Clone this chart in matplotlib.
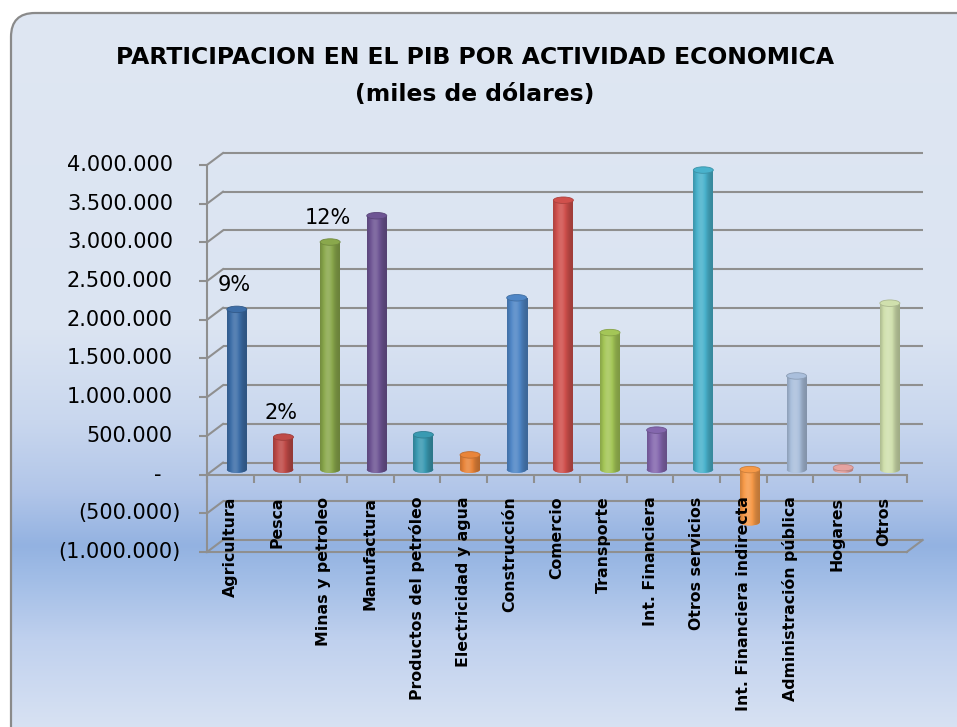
import numpy as np
import matplotlib
matplotlib.use('Agg')
import matplotlib.pyplot as plt
import matplotlib.colors as mcolors
import matplotlib.transforms as mtrans
from matplotlib.patches import FancyBboxPatch, Ellipse

# ---------------- data ----------------
categories = ["Agricultura", "Pesca", "Minas y petroleo", "Manufactura",
              "Productos del petróleo", "Electricidad y agua", "Construcción",
              "Comercio", "Transporte", "Int. Financiera", "Otros servicios",
              "Int. Financiera indirecta", "Administración pública", "Hogares", "Otros"]
values = [2070000, 420000, 2940000, 3280000, 450000, 190000, 2220000,
          3480000, 1770000, 510000, 3870000, -680000, 1210000, 25000, 2150000]
pct_labels = ["9%", "2%", "12%", "", "", "", "", "", "", "", "", "", "", "", ""]
bar_colors = ["#3d6ea8", "#bf4a47", "#8aa84c", "#6e5594", "#3a9ab2", "#e9853a",
              "#4f86c6", "#d0504c", "#a4c657", "#8467ae", "#49b2cc", "#f79a48",
              "#aabfdc", "#e6a3a0", "#d0e0ad"]
yticks = [-1000000, -500000, 0, 500000, 1000000, 1500000, 2000000,
          2500000, 3000000, 3500000, 4000000]
ytick_labels = ["(1.000.000)", "(500.000)", "-", "500.000", "1.000.000", "1.500.000",
                "2.000.000", "2.500.000", "3.000.000", "3.500.000", "4.000.000"]
title_line1 = "PARTICIPACION EN EL PIB POR ACTIVIDAD ECONOMICA"
title_line2 = "(miles de dólares)"

W, H = 957, 727
fig = plt.figure(figsize=(W / 100, H / 100), dpi=100)
fig.patch.set_facecolor("white")

# ---------------- background (rounded, gradient) ----------------
bg = fig.add_axes([0, 0, 1, 1], zorder=0)
bg.set_xlim(0, W)
bg.set_ylim(H, 0)
bg.axis("off")
stops_y = [0, 330, 420, 490, 545, 575, 640, 727]
stops_c = ["#dfe7f3", "#dbe4f2", "#c9d7ee", "#b2c6e9", "#93b2e1", "#a0bce6", "#c0d1ee", "#d8e2f3"]
ys = np.arange(H)
rgb = np.array([mcolors.to_rgb(c) for c in stops_c])
grad = np.stack([np.interp(ys, stops_y, rgb[:, k]) for k in range(3)], axis=1)
grad = grad[:, None, :]
frame = FancyBboxPatch((11, 13), W + 40, H + 40, boxstyle="round,pad=0,rounding_size=24",
                       facecolor="none", edgecolor="#8a8a8a", lw=1.6, zorder=2)
bg.add_patch(frame)
im = bg.imshow(grad, extent=[0, W, H, 0], aspect="auto", zorder=1, interpolation="bilinear")
im.set_clip_path(frame)
bg.set_xlim(0, W)
bg.set_ylim(H, 0)

# title
fig.text(475 / W, 1 - 57 / H, title_line1, ha="center", va="center",
         fontsize=16.9, fontweight="bold", family="DejaVu Sans")
fig.text(475 / W, 1 - 95 / H, title_line2, ha="center", va="center",
         fontsize=16.9, fontweight="bold", family="DejaVu Sans")

# ---------------- main axes ----------------
x_left, x_right = 207, 906.7
y_top, y_bot = 165, 552
ax = fig.add_axes([x_left / W, 1 - y_bot / H, (x_right - x_left) / W, (y_bot - y_top) / H], zorder=1)
ax.patch.set_visible(False)
n = len(categories)
ax.set_xlim(-0.5, n - 0.5)
ax.set_ylim(yticks[0], yticks[-1])

grid_c = "#8f8f8f"
px_x = (x_right - x_left) / n
px_y = (y_bot - y_top) / (yticks[-1] - yticks[0])
DX = 16 / px_x
DY = 12 / px_y
BX = 6.5 / px_x
BY = 5 / px_y

for s in ["top", "right"]:
    ax.spines[s].set_visible(False)
ax.spines["left"].set_color(grid_c)
ax.spines["left"].set_linewidth(1.5)
ax.spines["bottom"].set_position(("data", 0))
ax.spines["bottom"].set_color(grid_c)
ax.spines["bottom"].set_linewidth(1.5)
ax.set_yticks(yticks)
ax.set_yticklabels([])
ax.tick_params(axis="y", length=5.8, width=1.5, color=grid_c, direction="out")
ax.set_xticks(np.arange(-0.5, n, 1))
ax.set_xticklabels([])
ax.tick_params(axis="x", length=5.8, width=1.5, color=grid_c, direction="out")

# back wall gridlines + left diagonals
for v in yticks:
    ax.plot([-0.5 + DX, n - 0.5 + DX], [v + DY, v + DY], color=grid_c, lw=1.5,
            clip_on=False, zorder=1, solid_capstyle="butt")
    ax.plot([-0.5, -0.5 + DX], [v, v + DY], color=grid_c, lw=1.5, clip_on=False, zorder=1)
# floor at axis minimum
ax.plot([-0.5, n - 0.5], [yticks[0], yticks[0]], color=grid_c, lw=1.5, clip_on=False, zorder=1)
ax.plot([n - 0.5, n - 0.5 + DX], [yticks[0], yticks[0] + DY], color=grid_c, lw=1.5,
        clip_on=False, zorder=1)

# y tick labels (accounting style)
ytr = ax.get_yaxis_transform()
for v, lab in zip(yticks, ytick_labels):
    if lab == "-":
        ax.text((158 - x_left) / (x_right - x_left), v, lab, transform=ytr, ha="center",
                va="center", fontsize=15, family="DejaVu Sans")
    elif lab.startswith("("):
        ax.text((181 - x_left) / (x_right - x_left), v, lab, transform=ytr, ha="right",
                va="center", fontsize=15, family="DejaVu Sans")
    else:
        ax.text((173 - x_left) / (x_right - x_left), v, lab, transform=ytr, ha="right",
                va="center", fontsize=15, family="DejaVu Sans")

# ---------------- cylinders ----------------
def shade(c, f):
    c = np.array(mcolors.to_rgb(c))
    if f >= 1:
        return np.clip(c + (1 - c) * (f - 1), 0, 1)
    return np.clip(c * f, 0, 1)

ts = np.linspace(0, 1, 40)
prof = 0.76 + 0.38 * np.exp(-((ts - 0.4) / 0.32) ** 2)
bw = 20 / px_x
eh = 6.5 / px_y
xs = np.arange(n) + BX
ybase = np.zeros(n) + BY
vals = np.array(values, dtype=float)
bars = ax.bar(xs, vals, width=bw, bottom=ybase, zorder=3, linewidth=0)
for i, rect in enumerate(bars):
    c = bar_colors[i]
    rect.set_facecolor(c)
    top = max(vals[i], 0) + BY
    bot = min(vals[i], 0) + BY
    gimg = np.array([shade(c, f) for f in prof])[None, :, :]
    # bottom rounded end
    e_bot = Ellipse((xs[i], bot), bw, eh, facecolor=c, edgecolor="none", zorder=3)
    ax.add_patch(e_bot)
    im1 = ax.imshow(gimg, extent=[xs[i] - bw / 2, xs[i] + bw / 2, bot - eh, bot + eh],
                    aspect="auto", zorder=3.1, interpolation="bilinear")
    im1.set_clip_path(e_bot)
    im2 = ax.imshow(gimg, extent=[xs[i] - bw / 2, xs[i] + bw / 2, bot, top],
                    aspect="auto", zorder=3.2, interpolation="bilinear")
    im2.set_clip_path(rect)
    e_top = Ellipse((xs[i], top), bw, eh, facecolor=shade(c, 1.0),
                    edgecolor=shade(c, 0.82), lw=0.6, zorder=3.3)
    ax.add_patch(e_top)

ax.set_xlim(-0.5, n - 0.5)
ax.set_ylim(yticks[0], yticks[-1])

# percentage labels
for i, lab in enumerate(pct_labels):
    if lab:
        ax.annotate(lab, xy=(i, vals[i]), xytext=(4 * 0.72, 29 * 0.72),
                    textcoords="offset points", ha="center", va="center",
                    fontsize=15, family="DejaVu Sans", zorder=6)

# category labels
lab_tr = mtrans.offset_copy(ax.transData, fig=fig, x=0, y=-22, units="dots")
for i, cat in enumerate(categories):
    ax.text(i, 0, cat, transform=lab_tr, rotation=90, ha="center", va="top",
            fontsize=11.3, fontweight="bold", family="DejaVu Sans", zorder=6)

fig.savefig("out.png", dpi=100)
